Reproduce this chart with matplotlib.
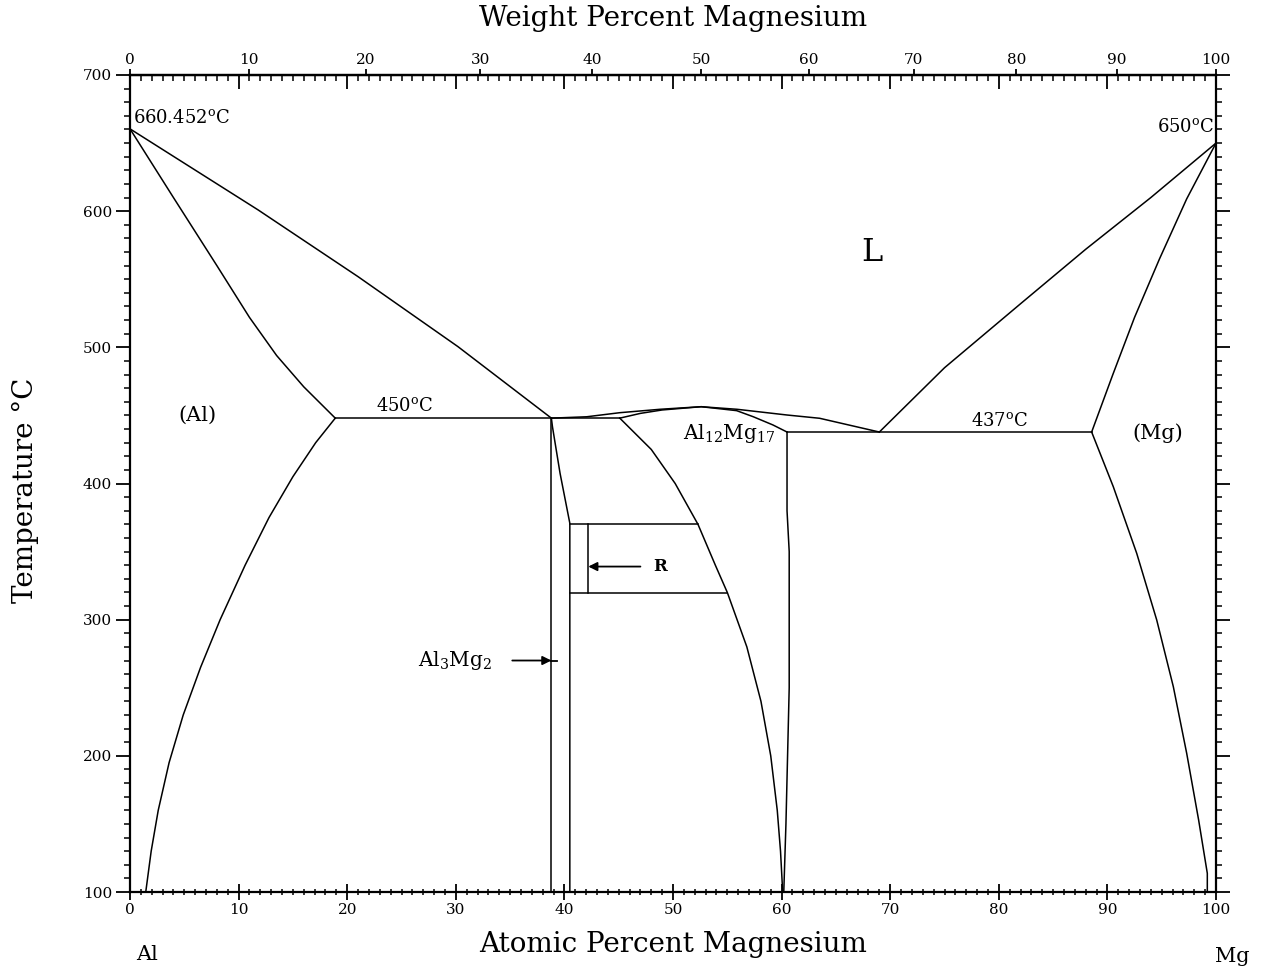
import matplotlib
matplotlib.use('Agg')
import matplotlib.pyplot as plt
import numpy as np
from matplotlib.ticker import MultipleLocator

# phase boundaries, atomic % Mg vs temperature (C)
al_liquidus_x = [0, 11.8, 21.0, 30.2, 38.8]
al_liquidus_t = [660.452, 600.9, 551.9, 500.5, 448]
al_solidus_x = [0, 4.0, 8.0, 11.0, 13.5, 16.0, 18.9]
al_solidus_t = [660.452, 610, 560, 522, 494, 471, 448]
al_solvus_x = [18.9, 17.1, 15.0, 12.8, 10.6, 8.3, 6.5, 4.9, 3.6, 2.6, 1.95, 1.45]
al_solvus_t = [448, 430, 405, 375, 340, 300, 265, 230, 195, 160, 130, 100]

eut1_x = [18.9, 45.1]
eut1_t = [448, 448]

beta_left_x = [38.8, 38.8]
beta_left_t = [448, 100]
beta_right_x = [38.8, 38.9, 39.6, 40.5, 40.5]
beta_right_t = [448, 441.7, 407.5, 370.8, 100]

r_top_x = [40.5, 52.3]
r_top_t = [370.5, 370.5]
r_bot_x = [40.5, 55.0]
r_bot_t = [319.5, 319.5]
r_mid_x = [42.2, 42.2]
r_mid_t = [370.5, 319.5]

gamma_left_x = [45.1, 48.0, 50.2, 52.3, 53.9, 55.0, 56.8, 58.1, 59.0, 59.6, 59.9, 60.1]
gamma_left_t = [448, 425, 400, 370, 340, 320, 280, 240, 200, 160, 130, 100]
gamma_right_x = [60.5, 60.5, 60.7, 60.7, 60.4, 60.2]
gamma_right_t = [437.8, 380, 350, 250, 150, 100]

mid_liquidus_x = [38.8, 42.05, 45.1, 48.8, 52.6, 55.9, 60.5, 63.5, 69.0]
mid_liquidus_t = [448, 449, 452, 454.5, 456.4, 454.5, 450.3, 447.9, 437.8]
gamma_solidus_x = [45.1, 47.0, 49.0, 52.6, 55.86, 57.4, 59.2, 60.5]
gamma_solidus_t = [448, 451.5, 454, 456.4, 453.5, 449, 443, 437.8]

eut2_x = [60.5, 88.55]
eut2_t = [437.8, 437.8]

mg_liquidus_x = [69.0, 75.0, 82.0, 88.0, 94.0, 100]
mg_liquidus_t = [437.8, 485, 532, 572, 610, 650]
mg_solidus_x = [88.55, 90.5, 92.5, 94.8, 97.3, 100]
mg_solidus_t = [437.8, 480, 522, 565, 609, 650]
mg_solvus_x = [88.55, 90.54, 92.70, 94.54, 96.07, 97.30, 98.4, 99.2, 99.2]
mg_solvus_t = [437.8, 397.7, 348.7, 299.8, 250.8, 201.9, 152.9, 113.7, 100]

at_ticks = list(range(0, 101, 10))
wt_ticks = list(range(0, 101, 10))
t_ticks = list(range(100, 701, 100))

M_AL = 26.982
M_MG = 24.305


def at_to_wt(a):
    a = np.asarray(a, dtype=float)
    return 100 * a * M_MG / (a * M_MG + (100 - a) * M_AL)


def wt_to_at(w):
    w = np.asarray(w, dtype=float)
    return 100 * (w / M_MG) / (w / M_MG + (100 - w) / M_AL)


FONT = 'DejaVu Serif'
plt.rcParams['font.family'] = FONT
plt.rcParams['mathtext.fontset'] = 'dejavuserif'

fig = plt.figure(figsize=(12.68, 9.68), dpi=100)
ax = fig.add_axes([130 / 1268, 1 - 892 / 968, 1086 / 1268, 817 / 968])

lines = [
    (al_liquidus_x, al_liquidus_t), (al_solidus_x, al_solidus_t),
    (al_solvus_x, al_solvus_t), (eut1_x, eut1_t),
    (beta_left_x, beta_left_t), (beta_right_x, beta_right_t),
    (r_top_x, r_top_t), (r_bot_x, r_bot_t), (r_mid_x, r_mid_t),
    (gamma_left_x, gamma_left_t), (gamma_right_x, gamma_right_t),
    (mid_liquidus_x, mid_liquidus_t), (gamma_solidus_x, gamma_solidus_t),
    (eut2_x, eut2_t), (mg_liquidus_x, mg_liquidus_t),
    (mg_solidus_x, mg_solidus_t), (mg_solvus_x, mg_solvus_t),
]
for xs, ts in lines:
    ax.plot(xs, ts, color='black', lw=1.1)

ax.set_xlim(0, 100)
ax.set_ylim(100, 700)
for sp in ax.spines.values():
    sp.set_linewidth(1.6)

# bottom / left / right ticks
ax.set_xticks(at_ticks)
ax.xaxis.set_minor_locator(MultipleLocator(1))
ax.set_yticks(t_ticks)
ax.yaxis.set_minor_locator(MultipleLocator(10))
ax.tick_params(axis='x', which='major', direction='inout', length=12, width=1.3,
               labelsize=11, pad=2)
ax.tick_params(axis='x', which='minor', direction='inout', length=5, width=1.1)
ax.tick_params(axis='y', which='major', direction='out', length=10, width=1.3,
               labelsize=11, right=True, pad=3)
ax.tick_params(axis='y', which='minor', direction='out', length=4, width=1.1,
               right=True)

# top: atomic ticks pointing inward
top_at = ax.secondary_xaxis('top')
top_at.set_xticks(at_ticks)
top_at.xaxis.set_minor_locator(MultipleLocator(1))
top_at.tick_params(which='major', direction='in', length=10, width=1.3,
                   labeltop=False)
top_at.tick_params(which='minor', direction='in', length=4, width=1.1)
top_at.spines['top'].set_linewidth(1.6)

# top: weight percent scale
top_wt = ax.secondary_xaxis('top', functions=(at_to_wt, wt_to_at))
top_wt.set_xticks(wt_ticks)
top_wt.tick_params(which='major', direction='out', length=4, width=1.3,
                   labelsize=11, pad=2)
top_wt.tick_params(which='minor', length=0)

# phase labels
ax.text(0.3, 662, r'660.452$^{\mathrm{o}}$C', fontsize=13, ha='left', va='bottom')
ax.text(99.8, 655, r'650$^{\mathrm{o}}$C', fontsize=13, ha='right', va='bottom')
ax.text(68.3, 570, 'L', fontsize=23, ha='center', va='center')
ax.text(6.2, 450, '(Al)', fontsize=15, ha='center', va='center')
ax.text(25.3, 450, r'450$^{\mathrm{o}}$C', fontsize=13, ha='center', va='bottom')
ax.text(55.2, 437, r'Al$_{12}$Mg$_{17}$', fontsize=14.5, ha='center', va='center')
ax.text(80.1, 439, r'437$^{\mathrm{o}}$C', fontsize=13, ha='center', va='bottom')
ax.text(94.6, 437, '(Mg)', fontsize=15, ha='center', va='center')
ax.text(29.9, 270, r'Al$_3$Mg$_2$', fontsize=14.5, ha='center', va='center')
ax.text(48.8, 339, 'R', fontsize=12, ha='center', va='center', fontweight='bold')

# pointer arrows
ax.annotate('', xy=(38.8, 270), xytext=(35.2, 270),
            arrowprops=dict(arrowstyle='-|>', color='black', lw=1.3,
                            mutation_scale=13, shrinkA=0, shrinkB=0))
ax.plot([38.8, 39.3], [270, 270], color='black', lw=1.3)
ax.annotate('', xy=(42.2, 339), xytext=(47.0, 339),
            arrowprops=dict(arrowstyle='-|>', color='black', lw=1.3,
                            mutation_scale=13, shrinkA=0, shrinkB=0))

# axis titles and element names
fig.text(673 / 1268, 1 - 18 / 968, 'Weight Percent Magnesium', fontsize=20,
         ha='center', va='center')
fig.text(673 / 1268, 1 - 945 / 968, 'Atomic Percent Magnesium', fontsize=20,
         ha='center', va='center')
fig.text(25 / 1268, 1 - 490 / 968, 'Temperature °C', fontsize=20,
         ha='center', va='center', rotation=90)
fig.text(147 / 1268, 1 - 955 / 968, 'Al', fontsize=15, ha='center', va='center')
fig.text(1232 / 1268, 1 - 957 / 968, 'Mg', fontsize=15, ha='center', va='center')

fig.savefig('out.png', dpi=100)
